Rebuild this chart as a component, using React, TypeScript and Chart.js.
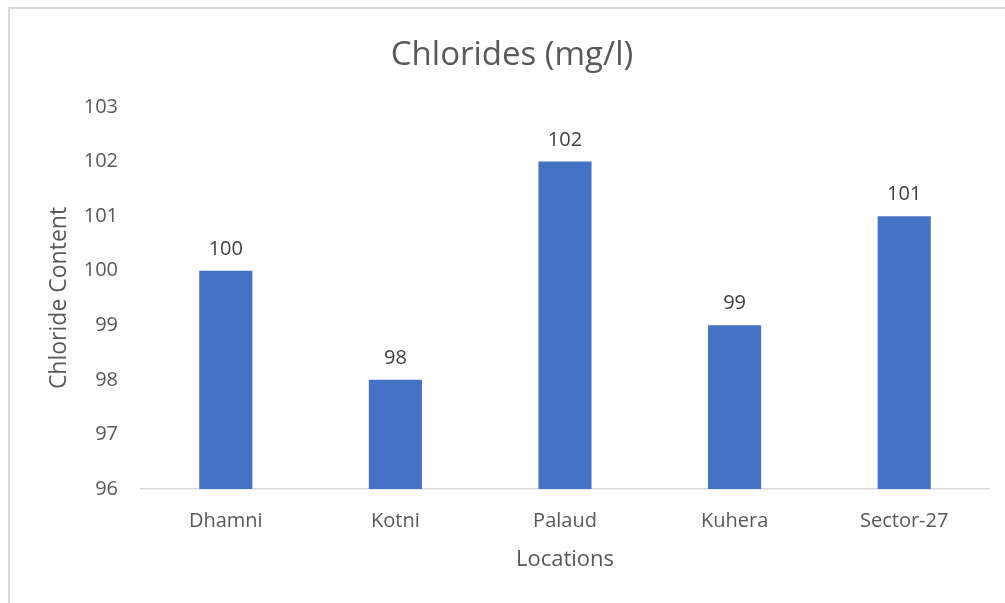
import React, { useEffect, useRef } from "react";
import { Chart, registerables } from "chart.js";

Chart.register(...registerables);

const categories = ["Dhamni", "Kotni", "Palaud", "Kuhera", "Sector-27"];
const chlorideValues = [100, 98, 102, 99, 101];
const chartTitle = "Chlorides (mg/l)";
const xAxisTitle = "Locations";
const yAxisTitle = "Chloride Content";
const yMin = 96;
const yMax = 103;

const FONT = "'Open Sans', Lato, sans-serif";

const dataLabelPlugin = {
  id: "dataLabels",
  afterDatasetsDraw(chart: any) {
    const ctx = chart.ctx;
    const meta = chart.getDatasetMeta(0);
    const data = chart.data.datasets[0].data;
    ctx.save();
    ctx.font = `20px ${FONT}`;
    ctx.fillStyle = "#404040";
    ctx.textAlign = "center";
    ctx.textBaseline = "alphabetic";
    meta.data.forEach((bar: any, i: number) => {
      ctx.fillText(String(data[i]), bar.x, bar.y - 16);
    });
    ctx.restore();
  },
};

export default function App() {
  const canvasRef = useRef<HTMLCanvasElement | null>(null);

  useEffect(() => {
    const canvas = canvasRef.current;
    if (!canvas) return;
    const chart = new Chart(canvas, {
      type: "bar",
      data: {
        labels: categories,
        datasets: [
          {
            label: "Chloride Content",
            data: chlorideValues,
            backgroundColor: "#4472C4",
            borderWidth: 0,
            categoryPercentage: 1,
            barPercentage: 0.313,
          },
        ],
      },
      options: {
        responsive: false,
        animation: false,
        maintainAspectRatio: false,
        layout: { padding: { left: 35, right: 16, top: 0, bottom: 0 } },
        plugins: {
          legend: { display: false },
          tooltip: { enabled: false },
          title: {
            display: true,
            text: chartTitle,
            color: "#595959",
            font: { family: FONT, size: 33, weight: "normal", lineHeight: 1.2 },
            padding: { top: 36, bottom: 31.4 },
          },
        },
        scales: {
          x: {
            grid: { display: false, drawTicks: false },
            border: { display: true, color: "#d9d9d9", width: 1.5 },
            ticks: {
              color: "#595959",
              font: { family: FONT, size: 20 },
              padding: 20,
              maxRotation: 0,
            },
            title: {
              display: true,
              text: xAxisTitle,
              color: "#595959",
              font: { family: FONT, size: 22, lineHeight: 1.2 },
              padding: { top: 0, bottom: 30 },
            },
            afterFit(scale: any) {
              scale.height = 114;
            },
          },
          y: {
            min: yMin,
            max: yMax,
            grid: { display: false, drawTicks: false },
            border: { display: false },
            ticks: {
              stepSize: 1,
              color: "#595959",
              font: { family: FONT, size: 20 },
              padding: 23,
            },
            title: {
              display: true,
              text: yAxisTitle,
              color: "#595959",
              font: { family: FONT, size: 23, lineHeight: 1.2 },
              padding: { top: 11, bottom: 0 },
            },
            afterFit(scale: any) {
              scale.width = 106;
            },
          },
        },
      },
      plugins: [dataLabelPlugin],
    });
    return () => chart.destroy();
  }, []);

  return (
    <div
      style={{
        position: "fixed",
        left: 0,
        top: 0,
        width: 1005,
        height: 603,
        background: "#ffffff",
        overflow: "hidden",
      }}
    >
      <div
        style={{
          position: "absolute",
          left: 8,
          top: 7,
          width: 1010,
          height: 610,
          borderLeft: "2px solid #d9d9d9",
          borderTop: "2px solid #d9d9d9",
        }}
      />
      <canvas
        ref={canvasRef}
        width={1005}
        height={603}
        style={{ position: "absolute", left: 0, top: 0, width: 1005, height: 603 }}
      />
    </div>
  );
}
